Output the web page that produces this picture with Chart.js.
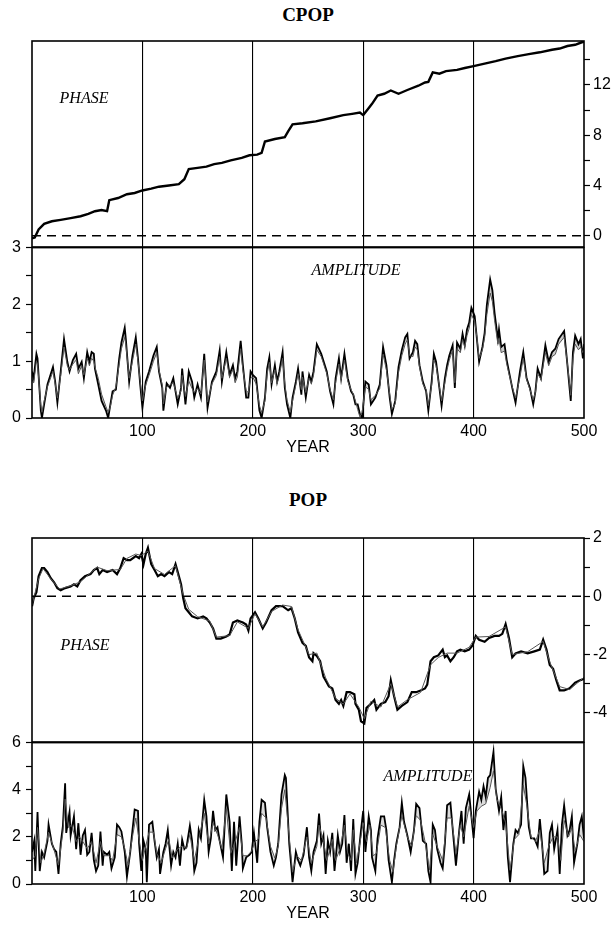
<!DOCTYPE html>
<html><head><meta charset="utf-8">
<script src="https://cdn.jsdelivr.net/npm/chart.js@4.4.1/dist/chart.umd.min.js"></script>
<style>
html,body{margin:0;padding:0;background:#fff;}
#page{position:relative;width:615px;height:930px;overflow:hidden;background:#fff;}
canvas{position:absolute;left:0;}
.t{position:absolute;font-family:"Liberation Serif","DejaVu Serif",serif;color:#000;white-space:nowrap;transform:translate(-50%,-50%);z-index:5;}
.title{font-weight:bold;font-size:19px;}
.lab{font-style:italic;font-size:16px;}
</style></head><body><div id="page">
<div class="t title" style="left:308px;top:15px">CPOP</div>
<div class="t lab" style="left:84px;top:98px">PHASE</div>
<div class="t lab" style="left:356px;top:270px">AMPLITUDE</div>
<div class="t title" style="left:308px;top:500px">POP</div>
<div class="t lab" style="left:85px;top:645px">PHASE</div>
<div class="t lab" style="left:428px;top:776px">AMPLITUDE</div>
</div>
<script>
// ---------------- axes / ticks ----------------
const xGridYears = [100, 200, 300, 400];
const xLabelYears = [100, 200, 300, 400, 500];
const cpopPhaseTicks = [0, 2, 4, 6, 8, 10, 12, 14];
const cpopPhaseLabels = [0, 4, 8, 12];
const cpopAmpTicks = [0, 0.5, 1, 1.5, 2, 2.5, 3];
const cpopAmpLabels = [0, 1, 2, 3];
const popPhaseTicks = [-4, -3, -2, -1, 0, 1, 2];
const popPhaseLabels = [-4, -2, 0, 2];
const popAmpTicks = [0, 1, 2, 3, 4, 5, 6];
const popAmpLabels = [0, 2, 4, 6];
const zeroLineYears = [0, 500];
const zeroLineValues = [0, 0];

// ---------------- CPOP phase ----------------
const cpopPhaseYears = [0,2.5,6,11,18,26,35,44,51,57, 63,68,70,78,86,93,100,108,115,124,
 133,138,142,150,158,165,172,180,190,197, 204,208,211,220,229,232,236,245,257,270,
 282,290,297,300,304,308,313,319,325,332, 340,350,356,359,363,369,375,385,392,400,
 410,420,429,440,450,460,471,478,485,492, 498,500];
const cpopPhase = [-0.2,-0.15,0.5,0.94,1.15,1.26,1.4,1.55,1.73,1.95, 2.04,1.95,2.83,3.0,3.3,3.4,3.6,3.75,3.9,4.0,
 4.1,4.5,5.3,5.4,5.5,5.7,5.8,6.0,6.2,6.4, 6.45,6.6,7.5,7.7,7.85,8.3,8.86,8.95,9.1,9.35,
 9.6,9.7,9.8,9.6,10.05,10.5,11.15,11.3,11.56,11.3, 11.6,11.94,12.2,12.25,13.0,12.9,13.1,13.2,13.35,13.5,
 13.7,13.9,14.1,14.3,14.45,14.6,14.8,14.9,15.1,15.2, 15.4,15.45];

// ---------------- CPOP amplitude ----------------
const cpopAmpYears = [0,1.5,4,5,8,9,11,14,19,21, 23,26,29,32,34,37,40,42,45,47,
 50,52,54,56,57,60,63,67,69,71, 73,76,79,81,84,85,88,91,94,96,
 98,100,103,106,110,113,115,118,119,122, 125,128,132,135,136,139,142,145,147,150,
 153,156,159,163,167,170,172,176,179,182, 184,186,189,191,194,196,198,200,203,206,
 208,211,213,215,217,220,222,224,227,229, 231,234,236,239,241,244,245,248,251,253,
 255,258,262,267,270,273,275,278,280,283, 286,289,291,293,295,297,299,302,305,307,
 311,315,318,321,324,326,329,332,335,338, 340,342,345,347,349,351,354,357,359,362,
 364,366,369,371,374,376,378,381,383,385, 388,390,392,394,396,398,401,403,405,408,
 410,412,415,417,419,422,423,425,428,430, 432,435,438,442,445,448,451,454,456,458,
 461,465,468,471,474,477,482,485,488,490, 492,495,497,499,500];
const cpopAmpA = [0.82,0.7,1.13,1.05,0.13,0.0,0.24,0.59,0.9,0.64, 0.27,0.82,1.39,0.99,0.82,1.02,1.13,0.87,0.99,0.7,
 1.16,0.99,1.16,1.13,0.87,0.59,0.3,0.13,0.0,0.24, 0.47,0.5,1.05,1.33,1.59,1.39,0.64,1.1,1.42,1.05,
 0.59,0.18,0.64,0.82,1.1,1.25,0.82,0.53,0.13,0.61, 0.53,0.7,0.24,0.53,0.87,0.24,0.82,0.64,0.36,0.59,
 0.36,1.13,0.18,0.64,0.82,1.19,0.64,1.16,0.76,0.93, 0.7,0.82,1.36,0.93,0.36,0.36,0.82,0.76,0.7,0.13,
 0.0,0.36,0.87,1.07,0.59,0.93,0.64,0.82,1.16,0.53, 0.24,0.0,0.36,0.64,0.87,0.41,0.82,0.36,0.76,0.64,
 0.82,1.3,1.13,0.82,0.47,0.24,0.7,1.05,0.7,1.13, 0.7,0.47,0.41,0.24,0.24,0.07,0.0,0.64,0.59,0.24,
 0.36,0.59,1.25,0.93,0.36,0.07,0.3,0.9,1.2,1.42, 1.48,1.05,1.16,1.36,1.3,0.93,0.64,0.47,0.13,0.64,
 1.13,0.99,0.53,0.21,0.7,0.93,1.1,1.28,0.53,1.33, 1.22,1.48,1.28,1.56,1.68,1.94,1.79,1.39,0.99,1.25,
 1.5,1.99,2.44,2.25,1.85,1.39,1.56,1.25,1.3,1.02, 0.82,0.53,0.27,0.82,1.16,0.7,0.53,0.24,0.47,0.87,
 0.7,1.28,0.99,1.16,1.22,1.39,1.53,0.93,0.3,1.16, 1.45,1.3,1.39,1.05,1.3];
const cpopAmpB = [0.68,0.62,1.0,0.95,0.22,0.1,0.3,0.55,0.82,0.6, 0.35,0.75,1.25,0.92,0.85,0.95,1.02,0.78,0.92,0.76,
 1.05,0.92,1.05,1.0,0.9,0.7,0.42,0.2,0.1,0.2, 0.4,0.55,0.95,1.22,1.42,1.3,0.7,1.0,1.3,1.0,
 0.65,0.3,0.58,0.75,1.0,1.15,0.85,0.58,0.25,0.55, 0.58,0.62,0.35,0.48,0.75,0.38,0.65,0.52,0.45,0.52,
 0.42,1.02,0.28,0.6,0.75,1.08,0.7,1.05,0.72,0.85, 0.62,0.72,1.22,0.85,0.48,0.45,0.7,0.72,0.6,0.22,
 0.1,0.3,0.78,0.98,0.62,0.85,0.6,0.75,1.05,0.6, 0.32,0.1,0.3,0.58,0.78,0.5,0.72,0.45,0.7,0.6,
 0.75,1.2,1.08,0.78,0.5,0.32,0.62,0.95,0.68,1.02, 0.65,0.5,0.42,0.3,0.15,0.02,0.1,0.55,0.5,0.32,
 0.4,0.52,1.12,0.85,0.42,0.15,0.25,0.8,1.1,1.3, 1.38,1.1,1.08,1.25,1.2,0.9,0.6,0.5,0.22,0.58,
 1.02,0.92,0.55,0.3,0.62,0.85,1.02,1.2,0.62,1.22, 1.15,1.38,1.25,1.45,1.58,1.82,1.7,1.42,1.05,1.2,
 1.42,1.82,2.2,2.05,1.72,1.3,1.4,1.15,1.18,0.95, 0.78,0.55,0.35,0.72,1.05,0.68,0.5,0.32,0.45,0.78,
 0.68,1.15,0.92,1.08,1.12,1.3,1.42,0.95,0.4,1.05, 1.3,1.2,1.25,1.15,1.2];

// ---------------- POP phase ----------------
const popPhaseYears = [0,1.5,4,6,9,11,14,17,20,23, 26,30,35,38,41,44,48,53,56,59,
 61,64,68,73,77,80,83,86,89,94, 97,99,101,103,105,108,111,114,117,120,
 124,127,130,132,135,137,139,142,145,150, 155,158,161,164,167,171,176,179,182,186,
 191,194,196,198,202,205,209,212,217,221, 227,232,235,238,241,245,248,251,254,255,
 258,261,264,266,269,272,275,278,280,282, 285,288,292,293,296,298,301,303,307,310,
 312,316,320,323,325,328,331,335,340,344, 348,352,356,358,361,364,368,372,374,376,
 379,382,385,388,392,396,399,402,405,410, 414,419,423,426,429,432,435,438,443,449,
 455,460,463,466,469,472,475,478,482,487, 492,496,500];
const popPhaseA = [-0.34,-0.07,0.14,0.69,0.97,0.97,0.83,0.62,0.48,0.28, 0.21,0.28,0.34,0.41,0.34,0.55,0.69,0.76,0.9,0.97,
 0.76,0.9,0.83,0.9,0.76,0.97,1.31,1.24,1.24,1.38, 1.31,1.45,1.1,1.45,1.66,1.1,0.9,0.69,0.76,0.69,
 0.83,0.76,1.1,0.83,0.41,-0.07,-0.41,-0.55,-0.69,-0.76, -0.69,-0.76,-0.9,-1.1,-1.45,-1.45,-1.38,-1.31,-0.9,-0.83,
 -0.9,-0.97,-1.17,-0.76,-0.55,-0.76,-1.1,-0.9,-0.48,-0.34, -0.34,-0.48,-0.41,-0.76,-1.24,-1.6,-1.7,-2.1,-2.23,-1.95,
 -2.05,-2.23,-2.76,-2.89,-3.09,-3.16,-3.56,-3.69,-3.56,-3.76, -3.29,-3.29,-3.36,-3.69,-3.89,-4.29,-4.36,-3.83,-3.69,-3.56,
 -3.89,-3.69,-3.63,-3.43,-2.89,-3.43,-3.89,-3.76,-3.63,-3.29, -3.29,-3.23,-3.16,-3.03,-2.23,-2.09,-2.03,-1.83,-2.09,-2.03,
 -2.23,-2.09,-1.89,-1.83,-1.89,-1.83,-1.69,-1.36,-1.49,-1.56, -1.43,-1.36,-1.36,-1.29,-0.96,-1.43,-2.09,-1.96,-1.89,-1.96,
 -1.89,-1.83,-1.49,-1.83,-2.36,-2.49,-2.89,-3.23,-3.23,-3.16, -2.96,-2.89,-2.83];
const popPhaseYearsB = [0,6,10,17,25,35,44,53,59,68, 80,86,94,99,105,111,120,130,137,142,
 150,161,167,179,186,196,202,209,217,227, 235,241,251,258,266,275,282,288,296,301,
 307,316,325,331,340,352,361,368,376,385, 396,402,414,429,435,449,463,469,478,487, 500];
const popPhaseB = [-0.3,0.6,0.95,0.6,0.25,0.36,0.5,0.8,1.0,0.88, 0.92,1.3,1.45,1.4,1.55,0.95,0.75,1.05,0.05,-0.45,
 -0.7,-0.85,-1.4,-1.35,-0.88,-1.1,-0.6,-1.05,-0.52,-0.3, -0.35,-1.15,-2.0,-1.95,-2.8,-3.5,-3.7,-3.35,-3.8,-4.2,
 -3.6,-3.8,-3.0,-3.8,-3.55,-3.3,-2.35,-2.1,-1.95,-1.95, -1.75,-1.4,-1.38,-1.05,-2.0,-1.9,-1.55,-2.25,-3.1,-3.2, -2.78];

// ---------------- POP amplitude ----------------
const popAmpYears = [0,2,3,5,7,9,11,14,15,18, 20,22,24,26,28,30,31,34,35,38,
 40,42,44,46,48,50,52,54,56,58, 60,62,64,65,68,70,72,75,77,79,
 81,84,86,89,91,93,96,97,99,101, 103,104,106,109,111,113,115,116,119,121,
 123,126,128,130,132,134,136,138,140,143, 145,147,149,151,153,156,158,160,162,164,
 166,168,170,173,176,179,181,183,185,188, 190,191,194,197,199,201,204,206,208,211,
 213,216,219,221,223,226,229,230,233,235, 236,239,241,243,246,249,251,253,255,258,
 260,262,264,266,268,270,272,274,277,279, 281,283,285,287,289,291,293,295,298,300,
 302,305,307,308,311,313,316,319,321,323, 326,328,330,333,335,337,340,343,346,348,
 351,354,357,359,361,363,365,367,370,372, 374,376,379,382,384,387,389,391,393,396,
 398,400,402,405,407,409,411,413,415,418, 420,423,425,427,429,431,433,436,438,440,
 443,445,447,450,452,455,458,460,462,464, 467,469,471,473,476,478,480,482,485,487,
 489,491,494,496,498,500];
const popAmpA = [1.36,1.83,0.55,3.05,0.55,1.36,1.13,1.83,2.52,1.71, 1.48,1.36,0.43,1.71,2.47,4.27,2.17,3.05,2.06,2.87,
 1.48,2.58,1.24,2.06,2.29,1.24,1.36,2.17,1.01,0.55, 0.78,2.23,0.78,1.36,1.24,1.36,0.66,1.13,2.52,2.41,
 2.23,1.36,0.31,1.36,2.29,3.16,3.1,1.71,0.55,1.83, 1.48,0.08,2.52,2.64,1.83,1.13,1.48,0.43,1.36,1.71,
 2.29,0.78,1.36,1.13,1.71,0.78,1.88,1.48,1.59,2.47, 1.83,0.55,0.9,2.29,1.94,3.57,2.87,1.36,1.94,3.1,
 2.29,2.41,1.83,1.13,3.8,2.64,0.55,2.64,0.78,2.87, 1.71,0.66,1.13,1.24,1.36,2.17,0.9,2.64,3.57,3.45,
 2.41,1.36,0.78,1.13,1.71,3.8,4.62,4.5,1.71,0.66, 0.08,1.36,1.01,0.78,1.24,2.41,1.13,0.55,1.36,1.83,
 2.99,1.71,2.06,0.43,1.83,1.36,2.17,0.55,2.06,1.36, 1.71,2.93,0.9,1.71,0.55,2.76,0.43,0.9,2.29,3.1,
 1.36,2.87,2.29,1.13,0.55,1.94,2.87,2.87,2.29,1.01, 0.08,1.01,1.71,2.41,3.45,2.64,2.06,1.36,2.29,3.4,
 3.22,1.83,1.71,0.55,0.08,2.52,2.29,1.48,0.9,0.66, 1.71,3.34,3.45,1.83,0.78,2.29,3.1,1.71,3.22,3.8,
 2.87,1.94,3.1,3.92,3.57,4.15,3.69,4.5,4.62,5.6, 4.03,3.1,3.69,2.29,3.1,1.13,0.08,1.71,2.29,2.17,
 2.52,5.0,4.5,2.41,1.94,1.94,1.59,2.76,1.71,0.43, 0.55,2.17,2.52,1.48,2.29,0.43,2.52,3.34,2.06,2.29,
 2.87,0.9,1.71,2.52,2.87,1.94];
const popAmpYearsB = [0,3,5,8,11,15,19,24,28,30, 33,36,40,43,46,50,54,58,62,65,
 70,73,77,81,84,87,91,94,97,100, 103,106,110,113,117,121,124,127,132,136,
 140,143,147,151,156,160,164,168,172,176, 180,184,188,191,195,199,202,205,208,212,
 216,220,223,226,229,233,236,240,244,249, 253,258,260,264,267,270,272,275,279,283,
 286,289,291,294,298,300,303,306,309,312, 316,320,324,327,330,335,340,344,348,352,
 356,360,363,367,372,376,380,384,388,391, 396,400,403,407,411,415,418,421,425,429,
 433,437,441,445,448,452,456,460,464,468, 472,476,479,482,486,489,492,496,500];
const popAmpB = [1.0,1.2,2.4,0.9,1.3,2.2,1.6,0.8,2.2,3.6, 2.4,2.5,1.8,2.0,1.8,1.5,1.8,0.9,1.8,1.2,
 1.2,1.0,2.1,2.0,1.5,0.8,2.0,2.8,1.9,1.0, 1.6,2.2,2.2,1.3,0.9,1.5,1.9,1.1,1.5,1.6,
 1.5,2.1,1.0,1.9,3.0,1.7,2.6,2.1,1.5,3.2, 1.3,1.8,2.4,1.2,1.2,1.4,1.8,1.9,3.0,2.8,
 1.6,1.1,1.6,3.2,4.0,2.0,0.5,1.2,1.0,2.0, 0.9,1.6,2.5,1.8,1.0,1.5,1.9,1.0,1.5,2.5,
 1.3,1.0,2.3,0.9,2.0,2.6,1.8,2.5,1.2,1.3, 2.5,2.4,1.0,0.5,1.6,2.9,2.0,1.6,2.9,2.7,
 1.8,0.6,2.1,1.6,1.0,2.8,2.8,1.3,2.5,2.0, 3.3,2.4,3.1,3.3,3.4,4.1,4.8,3.6,3.2,2.6,
 0.6,1.9,2.1,4.2,3.4,2.0,1.8,2.3,0.9,1.6, 2.0,2.0,1.0,2.7,2.0,2.4,1.4,2.1,1.8];

// ---------------- drawing ----------------
const page = document.getElementById('page');
const TICK_FONT = {family: "'Liberation Sans', Arial, sans-serif", size: 16};
const pts = (xs, ys) => xs.map((x, i) => ({x: x, y: ys[i]}));
const boxPlugin = {
  id: 'box',
  afterDraw(chart) {
    const a = chart.chartArea, ctx = chart.ctx;
    ctx.save(); ctx.strokeStyle = '#000'; ctx.lineWidth = 1.6;
    ctx.strokeRect(a.left, a.top, a.right - a.left, a.bottom - a.top);
    ctx.restore();
  }
};
function makeCanvas(top, height) {
  const c = document.createElement('canvas');
  c.width = 615; c.height = height;
  c.style.top = top + 'px'; c.style.width = '615px'; c.style.height = height + 'px';
  page.appendChild(c);
  return c;
}
const baseOpts = {
  responsive: false, animation: false, devicePixelRatio: 1,
  plugins: {legend: {display: false}, tooltip: {enabled: false}, title: {display: false}},
  elements: {point: {radius: 0}, line: {tension: 0}}
};
function phaseChart(top, bottom, min, max, tickVals, labelVals, datasets) {
  const pad = 14;
  const c = makeCanvas(top - pad, bottom - top + 2 * pad);
  return new Chart(c, {
    type: 'line',
    data: {datasets: datasets},
    options: Object.assign({}, baseOpts, {
      layout: {padding: {top: pad, bottom: pad, left: 32, right: 0}},
      scales: {
        x: {type: 'linear', min: 0, max: 500,
            afterBuildTicks: s => { s.ticks = xGridYears.map(v => ({value: v})); },
            ticks: {display: false},
            grid: {color: '#000', lineWidth: 1.1, drawTicks: false},
            border: {display: false},
            afterFit: s => { s.height = 0; }},
        y: {type: 'linear', position: 'right', min: min, max: max,
            afterBuildTicks: s => { s.ticks = tickVals.map(v => ({value: v})); },
            ticks: {callback: v => labelVals.includes(v) ? String(v) : '', color: '#000', font: TICK_FONT, padding: 3},
            grid: {drawOnChartArea: false, drawTicks: true, tickLength: 6, tickColor: '#000', tickWidth: 1.2, color: '#000'},
            border: {display: false},
            afterFit: s => { s.width = 31; }}
      }
    }),
    plugins: [boxPlugin]
  });
}
function ampChart(top, bottom, max, tickVals, labelVals, datasets) {
  const pad = 14, below = 50;
  const c = makeCanvas(top - pad, bottom - top + pad + below);
  return new Chart(c, {
    type: 'line',
    data: {datasets: datasets},
    options: Object.assign({}, baseOpts, {
      layout: {padding: {top: pad, bottom: 0, left: 0, right: 31}},
      scales: {
        x: {type: 'linear', min: 0, max: 500,
            afterBuildTicks: s => { s.ticks = xLabelYears.map(v => ({value: v})); },
            ticks: {color: '#000', font: TICK_FONT, padding: 4, maxRotation: 0, autoSkip: false},
            grid: {color: c => (c.tick && c.tick.value < 500) ? '#000' : 'rgba(0,0,0,0)', lineWidth: 1.1, drawTicks: false},
            border: {display: false},
            title: {display: true, text: 'YEAR', color: '#000', font: TICK_FONT, padding: {top: 0, bottom: 11}},
            afterFit: s => { s.height = below; }},
        y: {type: 'linear', position: 'left', min: 0, max: max,
            afterBuildTicks: s => { s.ticks = tickVals.map(v => ({value: v})); },
            ticks: {callback: v => labelVals.includes(v) ? String(v) : '', color: '#000', font: TICK_FONT, padding: 5},
            grid: {drawOnChartArea: false, drawTicks: true, tickLength: 6, tickColor: '#000', tickWidth: 1.2, color: '#000'},
            border: {display: false},
            afterFit: s => { s.width = 32; }}
      }
    }),
    plugins: [boxPlugin]
  });
}
const zeroDash = {data: pts(zeroLineYears, zeroLineValues), borderColor: '#000', borderWidth: 1.4, borderDash: [9, 6], fill: false};

// CPOP
phaseChart(41, 247, -0.9, 15.5, cpopPhaseTicks, cpopPhaseLabels, [
  zeroDash,
  {data: pts(cpopPhaseYears, cpopPhase), borderColor: '#000', borderWidth: 2.4, fill: false}
]);
ampChart(247, 418, 3, cpopAmpTicks, cpopAmpLabels, [
  {data: pts(cpopAmpYears, cpopAmpB), borderColor: '#555', borderWidth: 1, fill: '+1', backgroundColor: 'rgba(0,0,0,0.2)'},
  {data: pts(cpopAmpYears, cpopAmpA), borderColor: '#000', borderWidth: 1.8, fill: false}
]);
// POP
phaseChart(538, 742, -5, 2, popPhaseTicks, popPhaseLabels, [
  Object.assign({}, zeroDash),
  {data: pts(popPhaseYearsB, popPhaseB), borderColor: '#555', borderWidth: 1, fill: false},
  {data: pts(popPhaseYears, popPhaseA), borderColor: '#000', borderWidth: 2.2, fill: false}
]);
ampChart(742, 884, 6, popAmpTicks, popAmpLabels, [
  {data: pts(popAmpYearsB, popAmpB), borderColor: '#555', borderWidth: 1, fill: '+1', backgroundColor: 'rgba(0,0,0,0.14)'},
  {data: pts(popAmpYears, popAmpA), borderColor: '#000', borderWidth: 1.8, fill: false}
]);
</script>
</body></html>
